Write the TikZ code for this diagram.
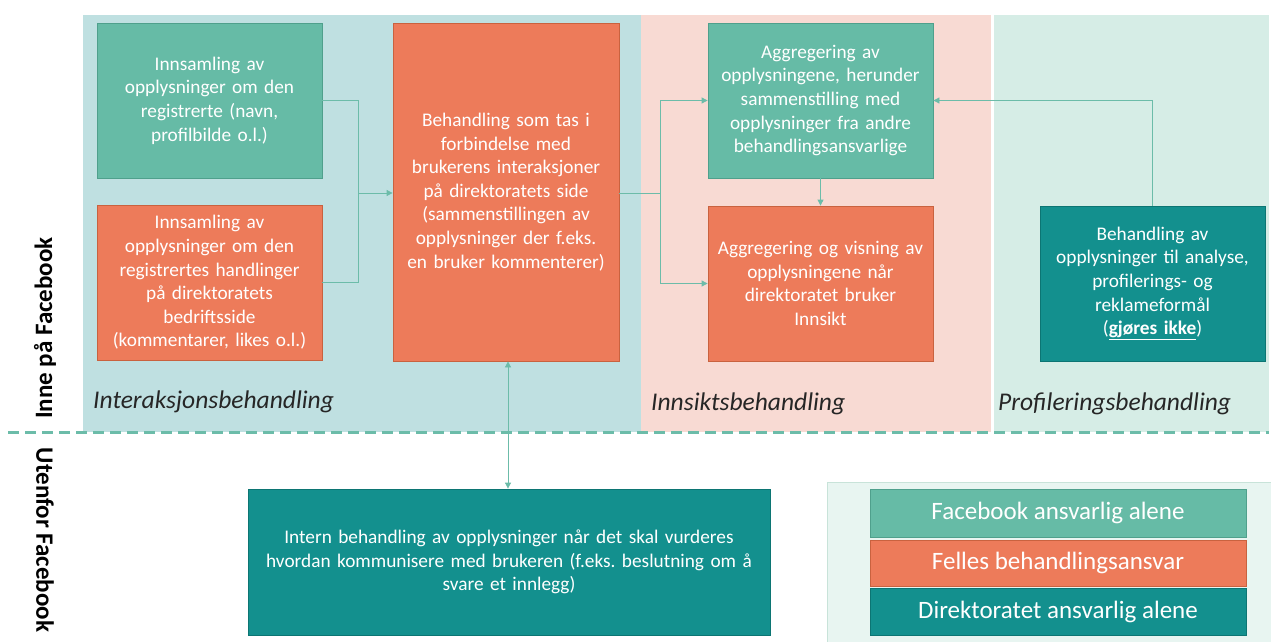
\documentclass[tikz,border=0pt]{standalone}
\usepackage{fontspec}
\setmainfont{Carlito}
\usetikzlibrary{arrows.meta,calc}
\frenchspacing
\definecolor{tgreen}{HTML}{66BBA6}
\definecolor{tgreenb}{HTML}{4FA08C}
\definecolor{orng}{HTML}{ED7B5A}
\definecolor{orngb}{HTML}{C9623F}
\definecolor{dteal}{HTML}{13908E}
\definecolor{dtealb}{HTML}{0C7573}
\definecolor{pblue}{HTML}{BFE0E1}
\definecolor{ppink}{HTML}{F8DAD3}
\definecolor{pgreen}{HTML}{D6EDE6}
\definecolor{conn}{HTML}{6CBCA9}
\definecolor{legbg}{HTML}{E8F5F1}
\definecolor{legbd}{HTML}{C8E3D9}
\definecolor{lbl}{HTML}{262626}
\tikzset{
  box/.style={rectangle, inner sep=2pt, line width=0.8pt, text=white,
    align=center, text width=#1, font=\fontsize{19.3}{23.6}\selectfont},
  box/.default=212pt,
  gbox/.style={box, fill=tgreen, draw=tgreenb},
  obox/.style={box, fill=orng, draw=orngb},
  dbox/.style={box=#1, fill=dteal, draw=dtealb},
  dbox/.default=212pt,
  leg/.style={rectangle, inner sep=0pt, minimum width=376pt, text=white,
    font=\fontsize{25}{28}\selectfont, line width=0.6pt},
  conline/.style={draw=conn, line width=0.8pt},
  tip/.style={-{Triangle[width=6pt,length=6pt]}},
  phase/.style={anchor=base west, text=lbl, font=\fontsize{25.5}{28}\selectfont\itshape, inner sep=0pt},
  side/.style={text=black, font=\fontsize{25}{28}\selectfont\bfseries, inner sep=0pt}
}
\begin{document}
\begin{tikzpicture}[x=1pt,y=-1pt]
\useasboundingbox (0,0) rectangle (1271,642);
\fill[white] (0,0) rectangle (1271,642);
% panels
\fill[pblue] (83,15) rectangle (641,432);
\fill[ppink] (641,15) rectangle (991,432);
\fill[pgreen] (994,15) rectangle (1269,432);
% dashed separator
\draw[conn, line width=3pt, dash pattern=on 11pt off 6pt] (8,432) -- (1269,432);
% boxes
\node[gbox, minimum width=225pt, minimum height=155pt] (A) at (209.5,100.5)
  {Innsamling av\\opplysninger om den\\registrerte (navn,\\profilbilde o.l.)};
\node[obox, minimum width=225pt, minimum height=155pt] (B) at (209.5,282.5)
  {Innsamling av\\opplysninger om den\\registrertes handlinger\\på direktoratets\\bedriftsside\\(kommentarer, likes o.l.)};
\node[obox, minimum width=226pt, minimum height=338pt] (C) at (506,192)
  {Behandling som tas i\\forbindelse med\\brukerens interaksjoner\\på direktoratets side\\(sammenstillingen av\\opplysninger der f.eks.\\en bruker kommenterer)};
\node[gbox, minimum width=225pt, minimum height=155pt] (D) at (820.5,100.5)
  {Aggregering av\\opplysningene, herunder\\sammenstilling med\\opplysninger fra andre\\behandlingsansvarlige};
\node[obox, minimum width=225pt, minimum height=155pt] (E) at (820.5,283.5)
  {Aggregering og visning av\\opplysningene når\\direktoratet bruker\\Innsikt};
\node[dbox, minimum width=225pt, minimum height=155pt] (F) at (1152.5,283.5)
  {Behandling av\\opplysninger til analyse,\\profilerings- og\\reklameformål\\(\underline{\textbf{gjøres ikke}})};
\node[dbox=512pt, minimum width=522pt, minimum height=146pt] (G) at (509,562)
  {Intern behandling av opplysninger når det skal vurderes\\hvordan kommunisere med brukeren (f.eks. beslutning om å\\svare et innlegg)};
% phase labels
\node[phase] (L1) at (93,408) {Interaksjonsbehandling};
\node[phase] (L2) at (651,410) {Innsiktsbehandling};
\node[phase] (L3) at (998,410) {Profileringsbehandling};
% side labels
\node[side, rotate=90] (S1) at (45,328) {Inne på Facebook};
\node[side, rotate=-90] (S2) at (45,540) {Utenfor Facebook};
% legend
\node[draw=legbd, fill=legbg, line width=1pt, minimum width=444pt, minimum height=160pt, inner sep=0pt] (LG) at (1049,562) {};
\node[leg, fill=tgreen, draw=tgreenb, minimum height=48pt] (K1) at (1058,513) {Facebook ansvarlig alene};
\node[leg, fill=orng, draw=orngb, minimum height=46pt] (K2) at (1058,563) {Felles behandlingsansvar};
\node[leg, fill=dteal, draw=dtealb, minimum height=47pt] (K3) at (1058,611.5) {Direktoratet ansvarlig alene};
% connectors
\coordinate (m1) at (358,193);
\coordinate (m2) at (660,193);
\coordinate (cs) at ($(C.south)+(2,0)$);
\draw[conline] (A.east) -- (A.east -| m1) -- (B.east -| m1) -- (B.east);
\draw[conline, tip] (m1) -- (m1 -| C.west);
\draw[conline] (C.east |- m2) -- (m2);
\draw[conline, tip] (m2) -- (m2 |- D.west) -- (D.west);
\draw[conline, tip] (m2) -- (m2 |- E.west) -- (E.west);
\draw[conline, tip] (D.south) -- (D.south |- E.north);
\draw[conline, tip] (F.north) -- (F.north |- D.east) -- (D.east);
\draw[conline, {Triangle[width=6pt,length=6pt]}-{Triangle[width=6pt,length=6pt]}] (cs) -- (cs |- G.north);
\end{tikzpicture}
\end{document}
